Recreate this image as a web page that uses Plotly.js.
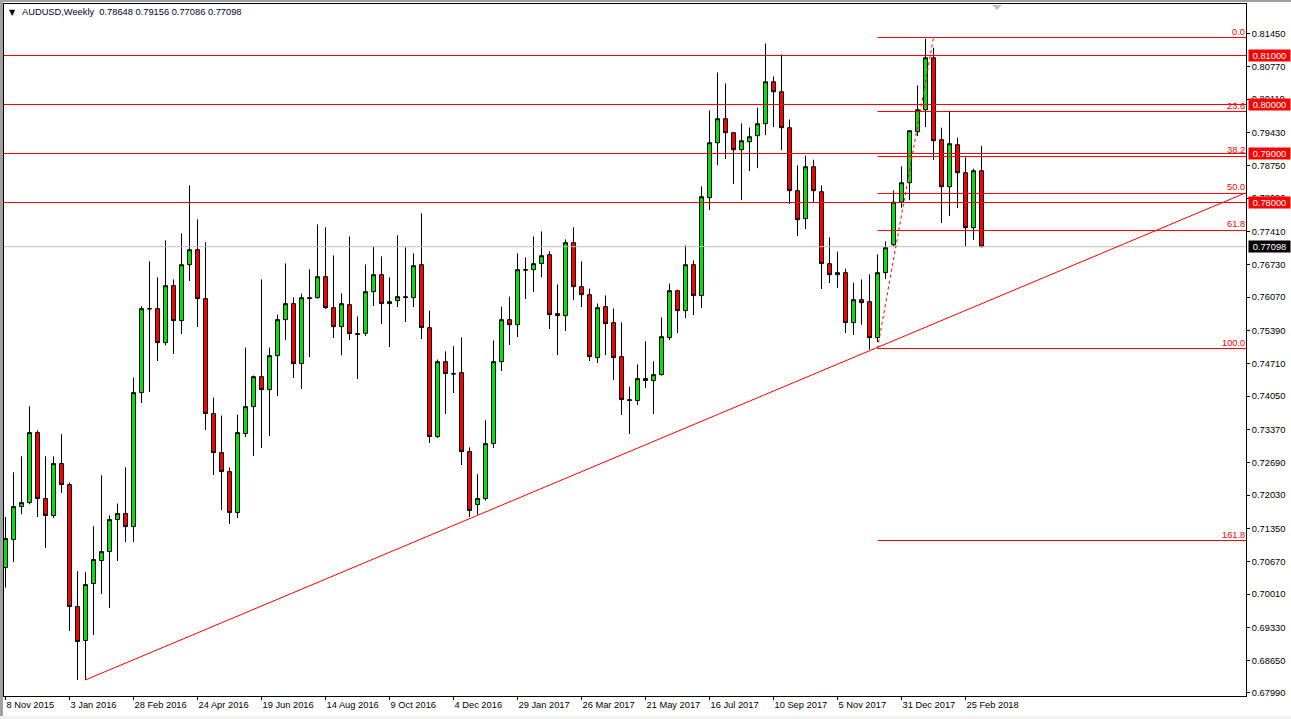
<!DOCTYPE html>
<html>
<head>
<meta charset="utf-8">
<script src="https://cdn.plot.ly/plotly-3.0.1.min.js"></script>
<style>
html,body{margin:0;padding:0;background:#fff;width:1291px;height:719px;overflow:hidden}
#chart{position:absolute;left:0;top:0;width:1291px;height:719px}
.edgeT{position:absolute;left:0;top:0;width:1291px;height:2px;background:#a0a0a0}
.edgeL{position:absolute;left:0;top:0;width:3px;height:719px;background:#a0a0a0}
.edgeB{position:absolute;left:0;top:716px;width:1291px;height:3px;background:#f0f0f0}
.shift{position:absolute;left:992px;top:5px;width:0;height:0;border-left:5px solid transparent;border-right:5px solid transparent;border-top:5px solid #c0c0c0}
</style>
</head>
<body>
<div id="chart"></div>
<div class="edgeT"></div><div class="edgeL"></div><div class="edgeB"></div><div class="shift"></div>
<script>
const opens = [
.70550,.71121,.71794,.71876,.73304,.71958,.71611,.72672,.72243,.69754,
.69061,.70224,.70693,.70876,.71529,.71652,.71386,.74120,.75834,.75834,
.75140,.76303,.75589,.76731,.77037,.76038,.73692,.72896,.72508,.71672,
.73284,.73834,.74446,.74181,.74875,.75609,.75936,.74712,.76058,.76058,
.76486,.75854,.75466,.75915,.75324,.75330,.76180,.76527,.75936,.75997,
.76078,.76058,.76731,.75446,.73223,.74752,.74508,.74528,.72916,.71835,
.71958,.73080,.74752,.75609,.75507,.76629,.76629,.76752,.76935,.75732,
.75691,.77180,.76282,.76119,.74834,.75874,.75548,.74854,.73977,.73957,
.74406,.74365,.74487,.75242,.76201,.75793,.76731,.76099,.78098,.79220,
.79710,.79424,.79077,.79240,.79363,.79608,.80464,.80260,.79526,.78241,
.77670,.78730,.78220,.76752,.76527,.76568,.75548,.76017,.75976,.75242,
.76568,.77139,.78008,.78404,.79444,.79893,.80954,.79281,.78322,.79179,
.78608,.77486,.78648];
const highs = [
.71582,.72494,.72821,.73841,.73351,.72821,.72821,.73269,.72284,.70475,
.70454,.71393,.72433,.71611,.71856,.72596,.74426,.75881,.76799,.76472,
.77227,.76431,.77370,.78349,.77655,.77186,.74018,.73651,.72590,.73671,
.75038,.74467,.76431,.75038,.75711,.76758,.76064,.76140,.76635,.77553,
.77492,.76921,.76146,.77309,.75677,.76737,.77105,.76901,.76472,.77329,
.77084,.76962,.77778,.75793,.74793,.74963,.75065,.75248,.73004,.72453,
.73555,.75187,.75874,.76078,.76962,.76880,.77309,.77411,.77003,.76329,
.77247,.77492,.76799,.76242,.75936,.76105,.75840,.75554,.74242,.74697,
.75167,.74759,.75656,.76344,.76221,.77125,.76819,.78329,.79879,.80654,
.80430,.79430,.79614,.79532,.79934,.81246,.80573,.81021,.79695,.78757,
.78955,.78873,.78349,.77288,.76996,.76650,.76364,.76431,.76533,.76941,
.77207,.78247,.78737,.79465,.80389,.81342,.81158,.79526,.79873,.79322,
.78920,.78690,.79156];
const lows = [
.70142,.70664,.71637,.71841,.71582,.70950,.71562,.72072,.69257,.68257,
.68257,.69175,.70012,.69726,.70685,.71072,.71072,.73908,.74132,.74765,
.75085,.74908,.75316,.76397,.75458,.73357,.72439,.71725,.71440,.71562,
.73214,.72827,.72990,.73235,.74051,.75193,.74418,.74194,.74846,.76040,
.75826,.75234,.74881,.75193,.74398,.75275,.75887,.75520,.75050,.75866,
.75560,.75866,.75213,.73092,.73194,.73683,.74112,.72643,.71582,.71631,
.71917,.72990,.74561,.75091,.75254,.76030,.76172,.76478,.75418,.74887,
.75377,.76009,.75866,.74765,.74724,.74887,.74377,.73663,.73276,.73867,
.74214,.73683,.74467,.75193,.75336,.75642,.75703,.75846,.77845,.78763,
.78886,.78376,.78049,.78641,.78702,.79375,.79538,.79069,.77968,.77315,
.77458,.78002,.76234,.76356,.76254,.75336,.75295,.75507,.74997,.75152,
.76438,.77111,.77894,.78049,.79355,.79538,.78865,.77580,.77723,.77886,
.77111,.77233,.77086];
const closes = [
.71142,.71794,.71876,.73304,.71958,.71611,.72672,.72243,.69754,.69040,
.70203,.70713,.70876,.71529,.71652,.71386,.74120,.75834,.75830,.75140,
.76303,.75589,.76731,.77037,.76038,.73692,.72896,.72508,.71672,.73304,
.73834,.74446,.74181,.74875,.75609,.75936,.74712,.76058,.76040,.76486,
.75854,.75466,.75936,.75324,.75310,.76180,.76527,.75936,.75976,.76078,
.76060,.76711,.75446,.73223,.74752,.74508,.74500,.72916,.71713,.71958,
.73080,.74752,.75609,.75507,.76629,.76620,.76752,.76915,.75711,.75691,
.77180,.76282,.76119,.74854,.75854,.75528,.74834,.73977,.73960,.74406,
.74365,.74487,.75262,.76201,.75793,.76731,.76099,.78118,.79220,.79710,
.79424,.79077,.79261,.79342,.79608,.80464,.80260,.79526,.78241,.77649,
.78730,.78241,.76752,.76527,.76568,.75548,.76017,.75956,.75242,.76568,
.77078,.78008,.78404,.79465,.79893,.80954,.79261,.78322,.79200,.78608,
.77486,.78649,.77098];

const dateTickIndex = [0,8,16,24,32,40,48,56,64,72,80,88,96,104,112,120];
const dateTickText = ["8 Nov 2015","3 Jan 2016","28 Feb 2016","24 Apr 2016","19 Jun 2016","14 Aug 2016","9 Oct 2016","4 Dec 2016","29 Jan 2017","26 Mar 2017","21 May 2017","16 Jul 2017","10 Sep 2017","5 Nov 2017","31 Dec 2017","25 Feb 2018"];
const priceTicks = [.81450,.80770,.80110,.79430,.78750,.78090,.77410,.76730,.76070,.75390,.74710,.74050,.73370,.72690,.72030,.71350,.70670,.70010,.69330,.68650,.67990];

const roundLevels = [.81,.80,.79,.78];
const bid = .77098;
const fibNames = ["0.0","23.6","38.2","50.0","61.8","100.0","161.8"];
const fibPrices = [.81367,.79857,.78939,.78184,.77429,.75020,.71102];
const fibStartIndex = 109;
const fibDiagX = [109,116];
const fibDiagY = [.75020,.81367];
const trendX = [10,155];
const trendY = [.68257,.78196];
const xStart = -0.1875;
const xEnd = 155.0625;
const yBottom = .679286;
const yTop = .820510;
const headline = "AUDUSD,Weekly  0.78648 0.79156 0.77086 0.77098";

const RED = "#ff0000";
const FONT = "Liberation Sans, Arial, sans-serif";
const FS = 9.3;

function hline(x0, x1, y, color){
  return {type:"scatter",mode:"lines",x:[x0,x1],y:[y,y],line:{color:color,width:1},hoverinfo:"skip",showlegend:false};
}

const traces = [{
  type:"candlestick",
  x:opens.map((_,i)=>i),
  open:opens,high:highs,low:lows,close:closes,
  whiskerwidth:0,
  width:0.5,
  increasing:{line:{color:"#000000",width:1},fillcolor:"#00e800"},
  decreasing:{line:{color:"#000000",width:1},fillcolor:"#ff0000"},
  hoverinfo:"skip",showlegend:false
}];
traces.push(hline(xStart,xEnd,bid,"#c0c0c0"));
roundLevels.forEach(v=>traces.push(hline(xStart,xEnd,v,RED)));
fibPrices.forEach(v=>traces.push(hline(fibStartIndex,xEnd,v,RED)));
traces.push({type:"scatter",mode:"lines",x:fibDiagX,y:fibDiagY,line:{color:RED,width:1,dash:"3px,3px"},hoverinfo:"skip",showlegend:false});
traces.push({type:"scatter",mode:"lines",x:trendX,y:trendY,line:{color:RED,width:1},hoverinfo:"skip",showlegend:false});

const annotations = [];
annotations.push({xref:"paper",yref:"paper",x:0,y:1,xanchor:"left",yanchor:"middle",xshift:3,yshift:-8,
  text:"▼",showarrow:false,font:{family:"DejaVu Sans",size:8,color:"#000"}});
annotations.push({xref:"paper",yref:"paper",x:0,y:1,xanchor:"left",yanchor:"middle",xshift:16,yshift:-8,
  text:headline,showarrow:false,font:{family:FONT,size:FS,color:"#000033"}});
fibNames.forEach((n,i)=>annotations.push({xref:"paper",yref:"y",x:1,y:fibPrices[i],xanchor:"right",yanchor:"bottom",xshift:0,yshift:0,
  text:n,showarrow:false,borderpad:0,font:{family:FONT,size:FS,color:RED}}));
roundLevels.forEach(v=>annotations.push({xref:"paper",yref:"y",x:1,y:v,xanchor:"left",yanchor:"middle",xshift:2,
  text:v.toFixed(5),showarrow:false,bgcolor:RED,width:41,height:11,borderpad:0,font:{family:FONT,size:FS,color:"#fff"}}));
annotations.push({xref:"paper",yref:"y",x:1,y:bid,xanchor:"left",yanchor:"middle",xshift:2,
  text:bid.toFixed(5),showarrow:false,bgcolor:"#000",width:41,height:11,borderpad:0,font:{family:FONT,size:FS,color:"#fff"}});

const layout = {
  width:1291,height:719,
  margin:{l:4,r:45,t:4,b:23,pad:0},
  paper_bgcolor:"#ffffff",plot_bgcolor:"#ffffff",
  showlegend:false,
  xaxis:{type:"linear",range:[xStart,xEnd],rangeslider:{visible:false},showgrid:false,zeroline:false,
    showline:true,mirror:true,linecolor:"#000",linewidth:1,
    tickmode:"array",tickvals:dateTickIndex,ticktext:dateTickText,ticks:"outside",ticklen:3,tickwidth:1,tickcolor:"#000",
    ticklabelposition:"outside right",tickangle:0,
    tickfont:{family:FONT,size:FS,color:"#000"}},
  yaxis:{type:"linear",side:"right",range:[yBottom,yTop],showgrid:false,zeroline:false,
    showline:true,mirror:true,linecolor:"#000",linewidth:1,
    tickmode:"array",tickvals:priceTicks,ticktext:priceTicks.map(v=>v.toFixed(5)),ticks:"outside",ticklen:3,tickwidth:1,tickcolor:"#000",
    tickfont:{family:FONT,size:FS,color:"#000"}},
  annotations:annotations
};
Plotly.newPlot("chart",traces,layout,{displayModeBar:false,staticPlot:true});
</script>
</body>
</html>
